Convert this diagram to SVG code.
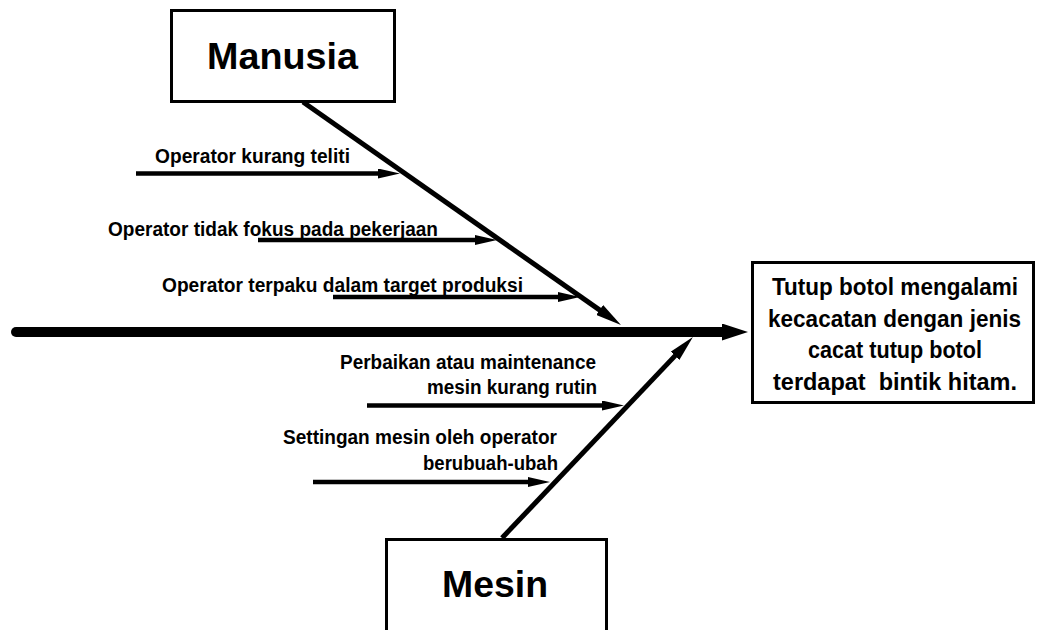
<svg xmlns="http://www.w3.org/2000/svg" width="1038" height="630" viewBox="0 0 1038 630">
  <style>
    .box { fill: #ffffff; stroke: #000000; stroke-width: 3; }
    .title { font-family: "Liberation Sans", Arial, sans-serif; font-weight: bold; font-size: 37px; fill: #000; }
    .label { font-family: "Liberation Sans", Arial, sans-serif; font-weight: bold; font-size: 19.5px; fill: #000; }
    .effect { font-family: "Liberation Sans", Arial, sans-serif; font-weight: bold; font-size: 23px; fill: #000; white-space: pre; }
    .spine { stroke: #000; stroke-width: 10; stroke-linecap: round; fill: none; }
    .bone { stroke: #000; stroke-width: 5; fill: none; }
    .cause { stroke: #000; stroke-width: 4.5; fill: none; }
  </style>
  <defs>
    <marker id="causeHead" markerUnits="userSpaceOnUse" markerWidth="22" markerHeight="10" viewBox="0 0 22 10" refX="1" refY="5" orient="auto">
      <path d="M0,0 L22,5 L0,10 z" fill="#000"/>
    </marker>
    <marker id="boneHead" markerUnits="userSpaceOnUse" markerWidth="26" markerHeight="12" viewBox="0 0 26 12" refX="1" refY="6" orient="auto">
      <path d="M0,0 L26,6 L0,12 z" fill="#000"/>
    </marker>
    <marker id="spineHead" markerUnits="userSpaceOnUse" markerWidth="26" markerHeight="17" viewBox="0 0 26 17" refX="1" refY="8.5" orient="auto">
      <path d="M0,0 L26,8.5 L0,17 z" fill="#000"/>
    </marker>
  </defs>

  <rect width="1038" height="630" fill="#ffffff"/>

  <!-- spine, main bones and cause arrows -->
  <g id="connectors">
    <line class="spine" x1="16" y1="332" x2="723" y2="332" marker-end="url(#spineHead)"/>
    <line class="bone" x1="303" y1="102" x2="600.5" y2="310.6" marker-end="url(#boneHead)"/>
    <line class="bone" x1="502" y1="538" x2="675.7" y2="355.1" marker-end="url(#boneHead)"/>
    <line class="cause" x1="136" y1="173.5" x2="379" y2="173.5" marker-end="url(#causeHead)"/>
    <line class="cause" x1="258" y1="240" x2="476" y2="240" marker-end="url(#causeHead)"/>
    <line class="cause" x1="333" y1="297" x2="559" y2="297" marker-end="url(#causeHead)"/>
    <line class="cause" x1="367" y1="405.5" x2="603" y2="405.5" marker-end="url(#causeHead)"/>
    <line class="cause" x1="313" y1="482" x2="529" y2="482" marker-end="url(#causeHead)"/>
  </g>

  <!-- cause labels -->
  <g id="causes-manusia">
    <text class="label" x="155" y="163" textLength="195" lengthAdjust="spacingAndGlyphs">Operator kurang teliti</text>
    <text class="label" x="108" y="236" textLength="330" lengthAdjust="spacingAndGlyphs">Operator tidak fokus pada pekerjaan</text>
    <text class="label" x="162" y="292" textLength="361" lengthAdjust="spacingAndGlyphs">Operator terpaku dalam target produksi</text>
  </g>
  <g id="causes-mesin">
    <text class="label" x="340" y="369" textLength="256" lengthAdjust="spacingAndGlyphs">Perbaikan atau maintenance</text>
    <text class="label" x="427" y="394" textLength="170" lengthAdjust="spacingAndGlyphs">mesin kurang rutin</text>
    <text class="label" x="283" y="444" textLength="274" lengthAdjust="spacingAndGlyphs">Settingan mesin oleh operator</text>
    <text class="label" x="423" y="470" textLength="135" lengthAdjust="spacingAndGlyphs">berubuah-ubah</text>
  </g>

  <!-- category: Manusia -->
  <g id="node-manusia">
    <rect class="box" x="171.5" y="10.5" width="223" height="91"/>
    <text class="title" x="207" y="69" textLength="151" lengthAdjust="spacingAndGlyphs">Manusia</text>
  </g>

  <!-- category: Mesin -->
  <g id="node-mesin">
    <rect class="box" x="386.5" y="539.5" width="220" height="100"/>
    <text class="title" x="442" y="597" textLength="106" lengthAdjust="spacingAndGlyphs">Mesin</text>
  </g>

  <!-- effect -->
  <g id="node-effect">
    <rect class="box" x="752.5" y="262.5" width="281" height="140"/>
    <text class="effect" x="772" y="295" textLength="246" lengthAdjust="spacingAndGlyphs">Tutup botol mengalami</text>
    <text class="effect" x="768" y="327" textLength="253" lengthAdjust="spacingAndGlyphs">kecacatan dengan jenis</text>
    <text class="effect" x="808" y="358" textLength="174" lengthAdjust="spacingAndGlyphs">cacat tutup botol</text>
    <text class="effect" x="773" y="390" textLength="244" lengthAdjust="spacingAndGlyphs">terdapat  bintik hitam.</text>
  </g>
</svg>
